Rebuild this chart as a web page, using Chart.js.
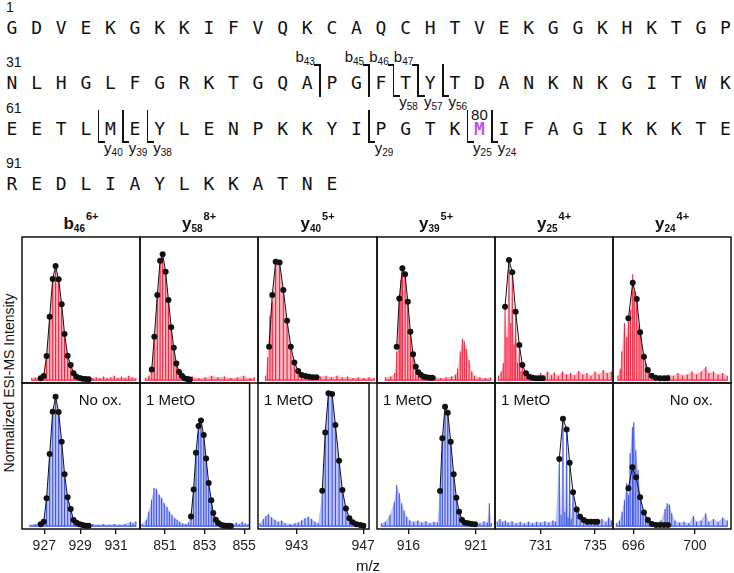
<!DOCTYPE html>
<html>
<head>
<meta charset="utf-8">
<script src="https://cdn.jsdelivr.net/npm/chart.js@4.4.1/dist/chart.umd.min.js"></script>
<style>
  body { margin: 0; background: #fff; }
  #wrap { position: relative; width: 734px; height: 573px; overflow: hidden; font-family: "Liberation Sans", Arial, sans-serif; color: #111; }
  #wrap div { position: absolute; white-space: nowrap; line-height: 1; }
  sub { font-size: 10px; vertical-align: -3px; line-height: 0; }
  sup { font-size: 11px; vertical-align: 9px; line-height: 0; margin-left: 1px; }
  canvas { position: absolute; }
</style>
</head>
<body>
<div id="wrap"></div>
<script>
// sequence of the protein, 30 residues per line
const sequence = 'GDVEKGKKIFVQKCAQCHTVEKGGKHKTGP' + 'NLHGLFGRKTGQAPGFTYTDANKNKGITWK' +
                 'EETLMEYLENPKKYIPGTKMIFAGIKKKTE' + 'REDLIAYLKKATNE';
const bFragments = [43, 45, 46, 47];
const yFragments = [58, 57, 56, 40, 39, 38, 29, 25, 24];
const oxidizedSite = 80;

// panels
const ionTypes = ['b', 'y', 'y', 'y', 'y', 'y'];
const ionNumbers = ['46', '58', '40', '39', '25', '24'];
const chargeStates = ['6+', '8+', '5+', '5+', '4+', '4+'];
const oxLabels = ['No ox.', '1 MetO', '1 MetO', '1 MetO', '1 MetO', 'No ox.'];
const tickLabels = [[927, 929, 931], [851, 853, 855], [943, 947], [916, 921], [731, 735], [696, 700]];

// [m/z, intensity]  top row = red, bottom row = blue
const b46TopDots = [[926.80,1.3],[926.97,2.9],[927.13,16.8],[927.30,44.3],[927.47,70.6],[927.63,79.7],[927.80,70.4],[927.97,53],[928.13,32.2],[928.30,17],[928.47,10.6],[928.63,4.8],[928.80,2.4],[928.97,1.5],[929.13,1],[929.30,0.8],[929.47,0.7]];
const b46TopPeaks = [[926.3,1.5],[926.5,2],[926.65,1.5],[926.8,3],[926.97,5],[927.13,18],[927.3,43],[927.47,68],[927.63,78],[927.8,69],[927.97,52],[928.13,33],[928.3,18],[928.47,11],[928.63,6],[928.8,4],[928.97,3],[929.13,2.5],[929.3,2],[929.5,2.5],[929.7,1.5],[929.9,2],[930.1,1.5],[930.3,2.5],[930.5,1.5],[930.7,2],[930.9,3],[931.1,1.5],[931.3,2.5],[931.5,1.5],[931.7,3],[931.9,2],[932.1,1.5]];
const b46BottomDots = [[926.80,1.3],[926.97,3.1],[927.13,19.4],[927.30,50.4],[927.47,80],[927.63,90.4],[927.80,79.7],[927.97,59],[928.13,36.2],[928.30,20.1],[928.47,12],[928.63,4.3],[928.80,2.4],[928.97,1.3],[929.13,0.8],[929.30,0.3],[929.47,0.3]];
const b46BottomPeaks = [[926.2,1],[926.5,1.5],[926.8,2.5],[926.97,4],[927.13,20],[927.3,49],[927.47,78],[927.63,89],[927.8,78],[927.97,58],[928.13,36],[928.3,20],[928.47,12],[928.63,5],[928.8,3],[928.97,2],[929.13,1.5],[929.4,1],[929.7,1.5],[930.0,1],[930.3,1.5],[930.6,1],[930.9,1.5],[931.2,1],[931.5,1.5],[931.8,3],[931.95,2],[932.1,3.5]];

const y58TopDots = [[850.30,7.5],[850.42,30.3],[850.56,59.5],[850.69,83.4],[850.81,87.9],[850.95,75.8],[851.08,56],[851.21,36.9],[851.33,22.6],[851.45,11.7],[851.58,5.7],[851.71,3.1],[851.83,1.3],[851.96,0.8],[852.08,0.5]];
const y58TopPeaks = [[850.0,1.5],[850.17,3],[850.30,9],[850.42,30],[850.56,58],[850.69,82],[850.81,86],[850.95,74],[851.08,55],[851.21,37],[851.33,23],[851.45,12],[851.58,7],[851.71,4],[851.83,3],[851.96,2],[852.2,2.5],[852.5,1.5],[852.8,2],[853.1,3],[853.4,2],[853.7,2.5],[854.0,1.5],[854.3,2],[854.6,3],[854.9,1.5],[855.1,2]];
const y58BottomDots = [[852.32,6.8],[852.45,25.6],[852.57,51.2],[852.70,69.9],[852.82,73.8],[852.96,63.6],[853.08,47.2],[853.21,30.2],[853.34,18.1],[853.44,9.2],[853.57,4.5],[853.69,2.2],[853.83,1],[853.96,0.5],[854.08,0.3],[854.21,0.2],[854.33,0.1]];
const y58BottomPeaks = [[849.85,1.5],[850.07,4.5],[850.19,10.3],[850.33,18.5],[850.45,26.6],[850.58,26],[850.72,22],[850.84,19.6],[850.97,16],[851.11,13.3],[851.23,10.3],[851.36,8],[851.50,5.7],[851.62,4.5],[851.75,3],[851.9,2],[852.05,1.5],[852.2,2.5],[852.32,8],[852.45,26],[852.57,50],[852.70,69],[852.82,73],[852.96,63],[853.08,46],[853.21,30],[853.34,18],[853.44,10],[853.57,5],[853.69,3],[853.83,2],[854.0,1.5],[854.2,1],[854.4,1.5],[854.6,2.5],[854.75,1.5],[854.9,3],[855.05,2],[855.2,1.5]];

const y40TopDots = [[941.30,23.3],[941.48,59.5],[941.67,82.7],[941.89,82.2],[942.10,63],[942.31,41.5],[942.52,23.3],[942.72,12.4],[942.93,6.4],[943.13,3.6],[943.34,2.9],[943.54,2.4],[943.75,2],[943.96,2]];
const y40TopPeaks = [[941.1,3],[941.22,16],[941.35,45],[941.48,55],[941.67,82],[941.89,80],[942.10,62],[942.31,40],[942.52,22],[942.72,12],[942.93,7],[943.13,5],[943.34,4],[943.54,3.5],[943.75,3],[943.96,3],[944.2,2.5],[944.5,3],[944.8,2],[945.1,3],[945.4,2],[945.7,2.5],[946.0,1.5],[946.3,2],[946.6,1.5],[946.9,2],[947.2,1.5]];
const y40BottomDots = [[944.54,24.7],[944.72,65.5],[944.91,92.8],[945.13,92.3],[945.33,70.7],[945.55,45.7],[945.75,25.2],[945.96,12.4],[946.17,5.5],[946.37,2.7],[946.60,1.3],[946.82,0.8],[947.01,0.3]];
const y40BottomPeaks = [[940.8,2],[941.0,5],[941.15,7],[941.3,8.5],[941.5,6],[941.7,4.5],[941.9,3],[942.1,4],[942.3,2],[942.6,1.5],[942.9,2],[943.1,2.5],[943.3,4],[943.5,5.5],[943.7,6.5],[943.9,5],[944.1,3],[944.3,2],[944.54,24],[944.72,64],[944.91,91],[945.13,91],[945.33,70],[945.55,45],[945.75,25],[945.96,13],[946.17,6],[946.37,3],[946.6,2],[946.82,1.5],[947.1,1]];

const y39TopDots = [[915.14,23.3],[915.33,57.1],[915.56,78.1],[915.76,73.9],[915.96,54.8],[916.15,33.8],[916.35,18],[916.55,9.4],[916.74,5.5],[916.94,3.6],[917.16,2.4],[917.36,2],[917.59,1.7],[917.78,1.7]];
const y39TopPeaks = [[914.3,2],[914.7,2.5],[915.0,5],[915.14,20],[915.33,56],[915.45,70],[915.56,80],[915.76,73],[915.96,53],[916.15,33],[916.35,17],[916.55,9],[916.74,6],[916.94,4],[917.16,3],[917.4,2.5],[917.7,2],[918.0,2.5],[918.4,1.5],[918.8,2],[919.2,2.5],[919.5,4],[919.65,8],[919.85,20],[920.0,29],[920.15,27],[920.3,22],[920.5,14],[920.7,6],[920.9,3],[921.3,2],[921.7,1.5],[922.1,2]];
const y39BottomDots = [[918.35,24.5],[918.52,61.4],[918.72,83.4],[918.92,79.2],[919.14,59],[919.36,36.2],[919.56,19.8],[919.76,10.1],[919.98,4.3],[920.20,2.4],[920.44,2],[920.70,1.5],[920.94,1.3]];
const y39BottomPeaks = [[914.0,2],[914.3,3],[914.64,8],[914.96,17],[915.14,28.7],[915.33,23],[915.51,16],[915.68,11],[915.88,6.5],[916.1,4],[916.4,3],[916.7,4],[917.0,2.5],[917.3,3.5],[917.6,2],[917.9,3],[918.15,2.5],[918.35,24],[918.52,60],[918.72,82],[918.92,78],[919.14,58],[919.36,36],[919.56,20],[919.76,11],[919.98,6],[920.2,4],[920.44,3],[920.7,2.5],[921.0,3],[921.3,2],[921.6,3.5],[921.85,2.5],[922.0,16],[922.15,2]];

const y25TopDots = [[728.38,51.3],[728.67,83.9],[728.91,75.3],[729.16,47.8],[729.43,24.5],[729.65,10.6],[729.92,4.8],[730.16,2.4],[730.41,1.7],[730.65,1.3],[730.90,1.3],[731.15,1.3]];
const y25TopPeaks = [[727.9,3],[728.1,6],[728.25,12],[728.38,50],[728.52,30],[728.67,83],[728.8,40],[728.91,74],[729.05,25],[729.16,47],[729.3,12],[729.43,24],[729.55,6],[729.65,11],[729.8,4],[729.92,6],[730.16,4],[730.4,3],[730.7,2.5],[731.0,5],[731.2,3],[731.5,6],[731.8,3.5],[732.0,5.5],[732.3,3],[732.6,6],[732.9,4],[733.2,5],[733.5,3.5],[733.8,6.5],[734.1,4],[734.4,5],[734.7,3],[735.0,6],[735.3,4],[735.6,7],[735.9,5],[736.2,6]];
const y25BottomDots = [[732.37,46.9],[732.64,75.1],[732.91,67.6],[733.13,44.3],[733.38,23.6],[733.65,11.7],[733.90,6.6],[734.17,4.3],[734.43,3.1],[734.70,3.1],[734.97,3.1],[735.16,3.1]];
const y25BottomPeaks = [[727.8,3],[728.0,5],[728.2,3],[728.4,4],[728.6,2.5],[728.9,3.5],[729.2,2],[729.5,3],[729.8,2],[730.1,3],[730.4,2],[730.7,3],[731.0,2.5],[731.3,3.5],[731.6,2.5],[731.9,4],[732.1,3],[732.37,48],[732.5,8],[732.64,76],[732.78,10],[732.91,68],[733.02,6],[733.13,45],[733.25,5],[733.38,24],[733.65,12],[733.9,6],[734.17,5],[734.43,4],[734.7,3.5],[734.97,4],[735.2,3],[735.5,5],[735.8,3],[736.0,6],[736.2,4]];

const y24TopDots = [[695.68,43.2],[695.96,68.1],[696.22,56.7],[696.44,33.4],[696.69,16.4],[696.94,7.1],[697.19,3.1],[697.45,1.7],[697.73,1.3],[697.99,1.3],[698.21,1.3]];
const y24TopPeaks = [[695.0,3],[695.15,8],[695.25,20],[695.42,40],[695.57,30],[695.68,43],[695.81,49],[695.96,74],[696.06,62],[696.22,57],[696.37,38],[696.5,33],[696.65,19],[696.8,12],[696.97,7],[697.2,4],[697.45,3],[697.7,2.5],[698.0,3],[698.3,4],[698.6,3],[698.9,5],[699.2,3.5],[699.5,4],[699.8,6],[700.1,4],[700.4,6],[700.7,9.4],[700.9,5],[701.2,6],[701.5,4],[701.8,5],[702.1,3]];
const y24BottomDots = [[695.68,26.4],[695.94,41.1],[696.18,34.1],[696.44,20.1],[696.69,9.6],[696.95,4.3],[697.21,1.5],[697.47,0.8],[697.73,0.8],[697.99,0.8],[698.25,0.8]];
const y24BottomPeaks = [[694.9,2],[695.1,4],[695.27,10],[695.42,18],[695.57,30],[695.68,22],[695.79,51],[695.94,69],[696.03,72.5],[696.16,53],[696.31,39],[696.47,22],[696.63,12],[696.79,8],[696.95,5],[697.2,3],[697.5,2],[697.8,4],[698.06,12],[698.2,16],[698.35,15],[698.49,9],[698.7,4],[699.0,2.5],[699.3,3],[699.6,2],[699.9,7],[700.1,3],[700.4,4],[700.7,9],[700.9,3],[701.2,5],[701.5,3],[701.8,6],[702.1,4]];

const topDots = [b46TopDots, y58TopDots, y40TopDots, y39TopDots, y25TopDots, y24TopDots];
const topPeaks = [b46TopPeaks, y58TopPeaks, y40TopPeaks, y39TopPeaks, y25TopPeaks, y24TopPeaks];
const bottomDots = [b46BottomDots, y58BottomDots, y40BottomDots, y39BottomDots, y25BottomDots, y24BottomDots];
const bottomPeaks = [b46BottomPeaks, y58BottomPeaks, y40BottomPeaks, y39BottomPeaks, y25BottomPeaks, y24BottomPeaks];

// x window of each column (m/z)
const mzRanges = [[925.76, 932.33], [849.75, 855.27], [940.68, 947.35], [913.68, 922.42], [727.64, 736.32], [694.68, 702.34]];

// ---------- layout ----------
const wrap = document.getElementById('wrap');
function put(html, x, y, css) {
  const d = document.createElement('div');
  d.innerHTML = html;
  d.style.left = x + 'px';
  d.style.top = y + 'px';
  d.style.cssText += css || '';
  wrap.appendChild(d);
  return d;
}
const center = 'transform:translate(-50%,-50%);';

// sequence block
const rowY = [27, 82, 128, 183];
const letterX = r => 12 + ((r - 1) % 30) * 24.6;
const rowOf = r => Math.floor((r - 1) / 30);

for (let r = 1; r <= sequence.length; r++) {
  const ox = r === oxidizedSite;
  put(sequence[r - 1], letterX(r), rowY[rowOf(r)],
    center + 'font:' + (ox ? 'bold ' : '') + '18px "DejaVu Sans Mono";color:' + (ox ? '#b25be6' : '#111'));
}
[1, 31, 61, 91].forEach((n, i) => put(String(n), 6, rowY[i] - 20, 'transform:translateY(-50%);font:14px "Liberation Sans"'));
put(String(oxidizedSite), letterX(oxidizedSite), rowY[rowOf(oxidizedSite)] - 14, center + 'font:15px "Liberation Sans"');

function bar(x, y, w, h) { put('', x, y, `width:${w}px;height:${h}px;background:#111`); }
const cuts = {};
bFragments.forEach(n => { (cuts[n] = cuts[n] || {}).b = n; });
yFragments.forEach(n => { const k = sequence.length - n; (cuts[k] = cuts[k] || {}).y = n; });
Object.keys(cuts).forEach(key => {
  const k = +key, c = cuts[k];
  const xm = letterX(k) + 12.5, ry = rowY[rowOf(k)];
  const y0 = ry - 18, y1 = ry + 15;
  bar(xm - 0.75, y0, 1.6, y1 - y0);
  if (c.b) {
    bar(xm - 6, y0, 6, 1.6);
    put('b<sub>' + c.b + '</sub>', letterX(k) - 2, ry - 26, center + 'font:15px "Liberation Sans"');
  }
  if (c.y) {
    bar(xm, y1 - 1.6, 6.5, 1.6);
    put('y<sub>' + c.y + '</sub>', letterX(k + 1) + 3, ry + 19, center + 'font:15px "Liberation Sans"');
  }
});

// ---------- spectra ----------
const colX = [22, 140, 258, 377, 495, 613, 731];
const rowTop = [237, 383];
const panelH = 146;
const axisH = 30;

const frame = {
  id: 'frame',
  afterDraw(c) {
    const a = c.chartArea, g = c.ctx;
    g.save();
    g.strokeStyle = '#111';
    g.lineWidth = 1.5;
    g.strokeRect(a.left, a.top, a.right - a.left, a.bottom - a.top);
    g.restore();
  }
};

function stickPath(peaks) {
  const pts = [];
  peaks.forEach(([x, y]) => pts.push({ x, y: 0 }, { x, y }, { x, y: 0 }));
  return pts;
}

function drawPanel(col, row, dots, peaks) {
  const red = row === 0;
  const cv = document.createElement('canvas');
  const w = colX[col + 1] - colX[col] + 4;
  const h = panelH + 4 + (red ? 0 : axisH - 2);
  cv.width = w; cv.height = h;
  cv.style.left = (colX[col] - 2) + 'px';
  cv.style.top = (rowTop[row] - 2) + 'px';
  wrap.appendChild(cv);

  new Chart(cv, {
    type: 'line',
    data: {
      datasets: [
        {
          data: dots.map(([x, y]) => ({ x, y })),
          borderColor: '#111', borderWidth: 1,
          pointRadius: 3, pointBackgroundColor: '#111', pointBorderWidth: 0,
          order: 0
        },
        {
          data: stickPath(peaks),
          borderColor: red ? '#f2243f' : '#3f55e4', borderWidth: 1.1,
          pointRadius: 0, order: 1
        },
        {
          data: peaks.map(([x, y]) => ({ x, y })),
          borderWidth: 0, pointRadius: 0, fill: 'origin',
          backgroundColor: red ? 'rgba(246,70,100,0.40)' : 'rgba(80,100,236,0.38)',
          order: 2
        }
      ]
    },
    options: {
      responsive: false,
      animation: false,
      events: [],
      layout: { autoPadding: false, padding: { left: 2, right: 2, top: 2, bottom: red ? 2 : 0 } },
      plugins: { legend: { display: false }, tooltip: { enabled: false } },
      scales: {
        x: {
          type: 'linear',
          min: mzRanges[col][0], max: mzRanges[col][1],
          display: !red,
          afterBuildTicks: s => { s.ticks = tickLabels[col].map(v => ({ value: v })); },
          afterFit: s => { s.height = red ? 0 : axisH; },
          grid: { drawOnChartArea: false, drawTicks: true, tickLength: 5, color: '#111', lineWidth: 1.3 },
          border: { display: false },
          ticks: { font: { family: 'Liberation Sans', size: 14 }, color: '#222', padding: 4, maxRotation: 0, autoSkip: false }
        },
        y: { min: -2, max: 100, display: false }
      }
    },
    plugins: [frame]
  });
}

for (let c = 0; c < 6; c++) {
  drawPanel(c, 0, topDots[c], topPeaks[c]);
  drawPanel(c, 1, bottomDots[c], bottomPeaks[c]);
  const cx = (colX[c] + colX[c + 1]) / 2;
  put('<b>' + ionTypes[c] + '<sub>' + ionNumbers[c] + '</sub><sup>' + chargeStates[c] + '</sup></b>',
    cx, 224, center + 'font:bold 17px "Liberation Sans"');
  if (oxLabels[c] === 'No ox.') {
    put(oxLabels[c], colX[c + 1] - 18, 399, 'transform:translate(-100%,-50%);font:15px "Liberation Sans"');
  } else {
    put(oxLabels[c], colX[c] + 6, 399, 'transform:translateY(-50%);font:15px "Liberation Sans"');
  }
}

put('Normalized ESI-MS Intensity', 9, 383, 'transform:translate(-50%,-50%) rotate(-90deg);font:14px "Liberation Sans"');
put('m/z', 368, 565, center + 'font:15px "Liberation Sans"');
</script>
</body>
</html>
